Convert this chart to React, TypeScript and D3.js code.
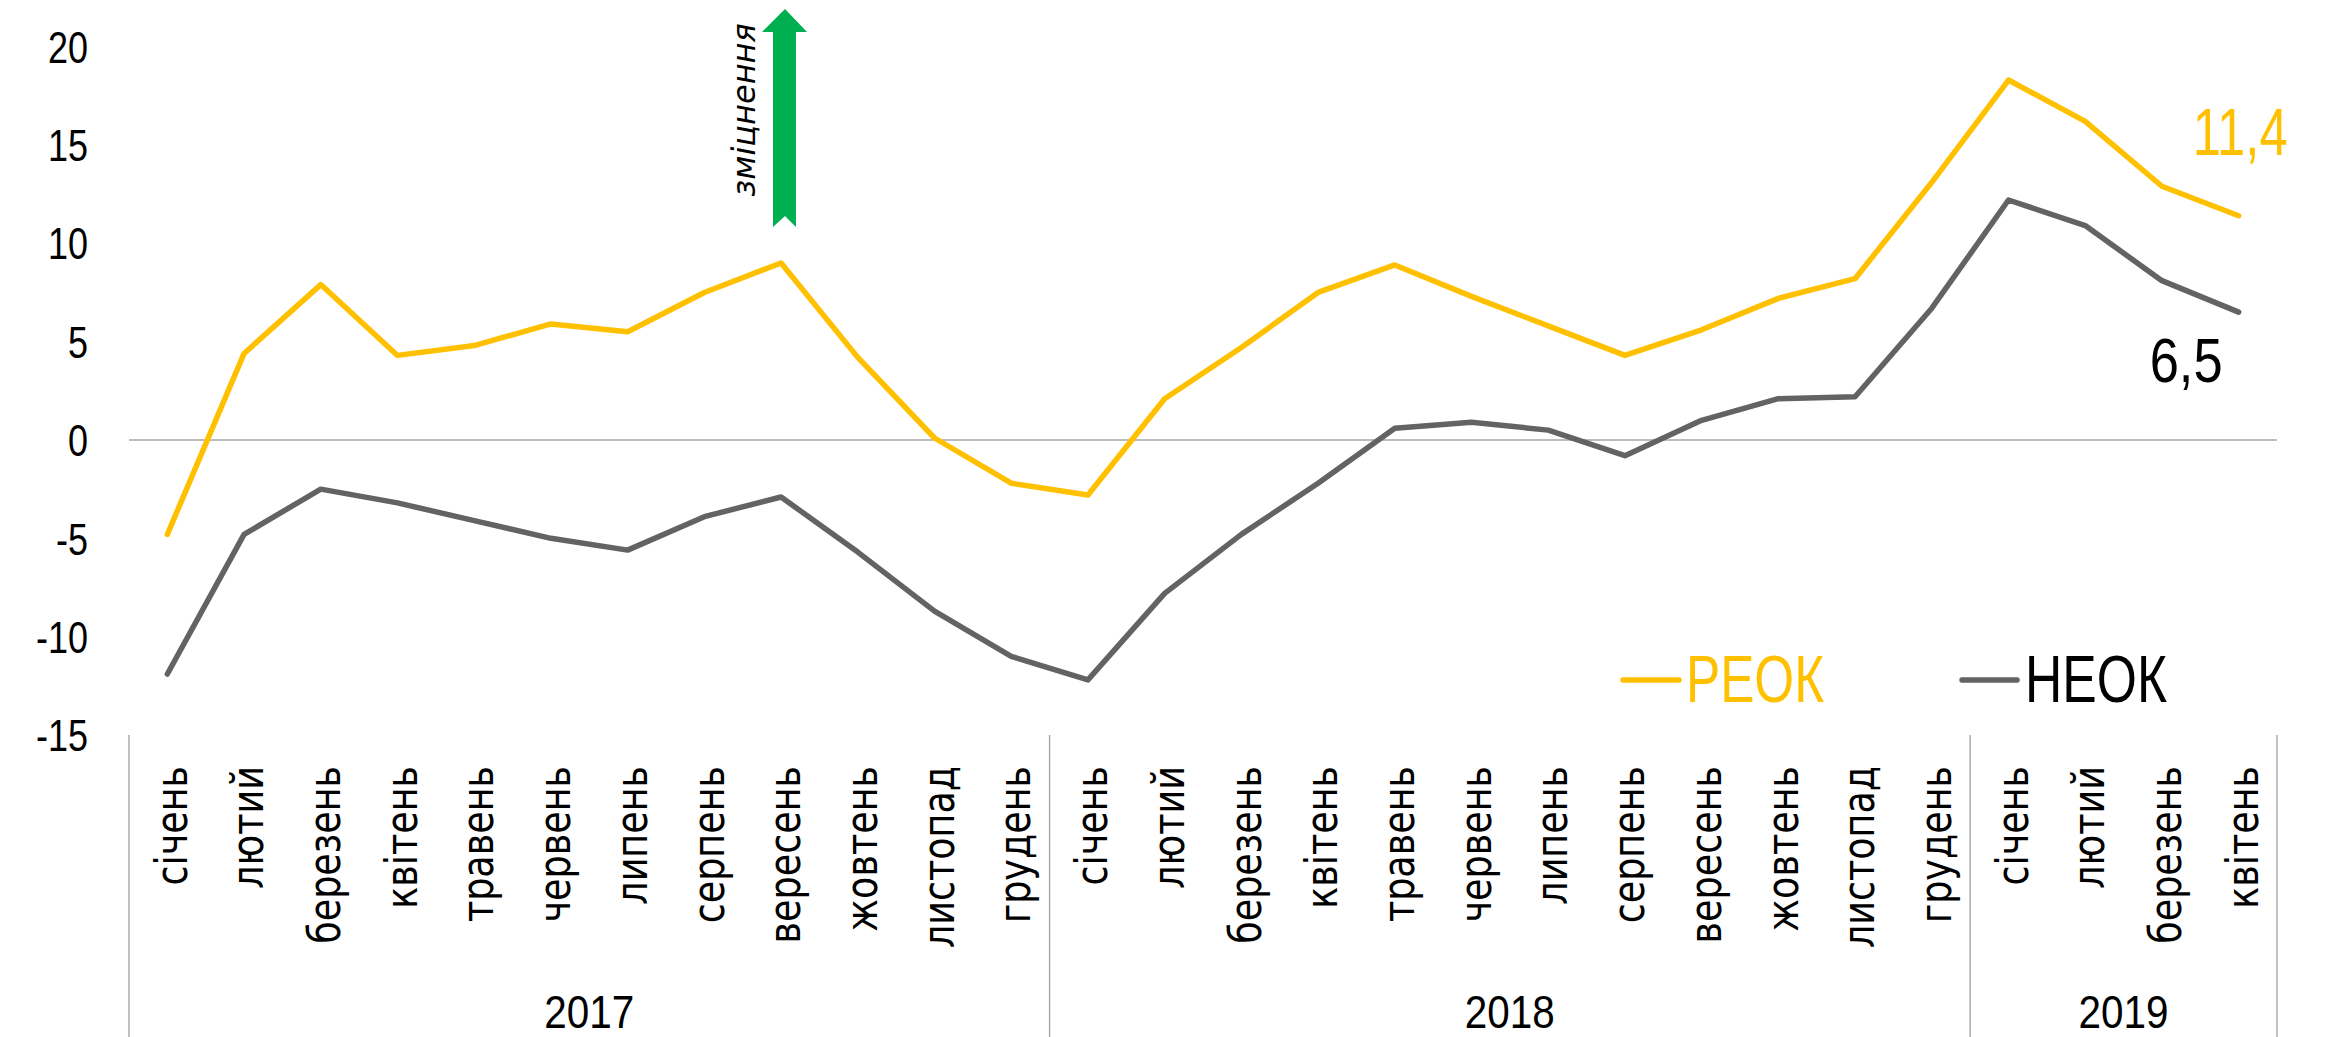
import React from 'react';
import * as d3 from 'd3';

const monthLabels = [
  'січень','лютий','березень','квітень','травень','червень','липень','серпень','вересень','жовтень','листопад','грудень',
  'січень','лютий','березень','квітень','травень','червень','липень','серпень','вересень','жовтень','листопад','грудень',
  'січень','лютий','березень','квітень',
];
const yearLabels = ['2017', '2018', '2019'];
const yearCounts = [12, 12, 4];

const reok = [-4.8, 4.4, 7.9, 4.3, 4.8, 5.9, 5.5, 7.5, 9.0, 4.2, 0.1, -2.2,
  -2.8, 2.1, 4.7, 7.5, 8.9, 7.3, 5.8, 4.3, 5.6, 7.2, 8.2, 13.1,
  18.3, 16.2, 12.9, 11.4];
const neok = [-11.9, -4.8, -2.5, -3.2, -4.1, -5.0, -5.6, -3.9, -2.9, -5.7, -8.7, -11.0,
  -12.2, -7.8, -4.8, -2.2, 0.6, 0.9, 0.5, -0.8, 1.0, 2.1, 2.2, 6.7,
  12.2, 10.9, 8.1, 6.5];
const yTicks = [20, 15, 10, 5, 0, -5, -10, -15];
const seriesNames = ['РЕОК', 'НЕОК'];
const endLabels = ['11,4', '6,5'];
const arrowLabel = 'зміцнення';

const W = 2335;
const H = 1037;
const YELLOW = '#FFC000';
const GRAY = '#636363';
const AXIS = '#a6a6a6';
const NARROW = '"Liberation Sans Narrow", "Liberation Sans", sans-serif';

export default function App() {
  const idx = d3.range(monthLabels.length);
  const x = d3.scaleBand<number>().domain(idx).range([129, 2277]).padding(0);
  const cx = (i: number) => (x(i) as number) + x.bandwidth() / 2;
  const y = d3.scaleLinear().domain([-15, 20]).range([735, 46.6]);

  const line = d3.line<number>().x((_, i) => cx(i)).y((d) => y(d));

  const bounds: number[] = [0];
  yearCounts.forEach((c) => bounds.push(bounds[bounds.length - 1] + c));
  const edgeX = (k: number) => (k >= idx.length ? x.range()[1] : (x(k) as number));

  const lastI = idx.length - 1;
  const lastX = cx(lastI);

  return (
    <svg width={W} height={H} style={{ position: 'absolute', left: 0, top: 0, background: '#fff' }}>
      {/* y tick labels */}
      {yTicks.map((t) => (
        <text
          key={t}
          transform={`translate(88,${y(t)}) scale(0.8,1)`}
          dy="0.36em"
          textAnchor="end"
          fontFamily='"Liberation Sans", sans-serif'
          fontSize={45}
          fill="#000"
        >
          {t}
        </text>
      ))}
      {/* zero line */}
      <line x1={x.range()[0]} x2={x.range()[1]} y1={y(0)} y2={y(0)} stroke={AXIS} strokeWidth={1.6} />
      {/* vertical separators */}
      {bounds.map((b) => (
        <line key={b} x1={edgeX(b)} x2={edgeX(b)} y1={y(-15)} y2={H} stroke={AXIS} strokeWidth={1.4} />
      ))}
      {/* month labels */}
      {idx.map((i) => (
        <text
          key={i}
          transform={`translate(${cx(i) + 7},766) rotate(-90) scale(1,1.2)`}
          textAnchor="end"
          dy="0.28em"
          fontFamily='"DejaVu Sans", sans-serif'
          fontSize={36.5}
          fill="#000"
        >
          {monthLabels[i]}
        </text>
      ))}
      {/* year labels */}
      {yearLabels.map((yl, k) => (
        <text
          key={yl}
          x={(edgeX(bounds[k]) + edgeX(bounds[k + 1])) / 2}
          y={1028}
          textAnchor="middle"
          fontFamily={NARROW}
          fontSize={46}
          textLength={90}
          lengthAdjust="spacingAndGlyphs"
          fill="#000"
        >
          {yl}
        </text>
      ))}
      {/* series lines */}
      <path d={line(neok) || ''} fill="none" stroke={GRAY} strokeWidth={5.5} strokeLinejoin="round" strokeLinecap="round" />
      <path d={line(reok) || ''} fill="none" stroke={YELLOW} strokeWidth={5.5} strokeLinejoin="round" strokeLinecap="round" />
      {/* end labels */}
      <text x={lastX - 46} y={y(reok[lastI]) - 61} fontFamily={NARROW} fontSize={66} textLength={95} lengthAdjust="spacingAndGlyphs" fill={YELLOW}>
        {endLabels[0]}
      </text>
      <text x={lastX - 89} y={y(neok[lastI]) + 70} fontFamily={NARROW} fontSize={63} textLength={73} lengthAdjust="spacingAndGlyphs" fill="#000">
        {endLabels[1]}
      </text>
      {/* legend */}
      <line x1={1623} x2={1679} y1={680} y2={680} stroke={YELLOW} strokeWidth={5.5} strokeLinecap="round" />
      <text x={1686} y={702} fontFamily={NARROW} fontSize={67} textLength={138} lengthAdjust="spacingAndGlyphs" fill={YELLOW}>
        {seriesNames[0]}
      </text>
      <line x1={1962} x2={2017} y1={680} y2={680} stroke={GRAY} strokeWidth={5.5} strokeLinecap="round" />
      <text x={2025} y={702} fontFamily={NARROW} fontSize={67} textLength={142} lengthAdjust="spacingAndGlyphs" fill="#000">
        {seriesNames[1]}
      </text>
      {/* arrow */}
      <path d="M785,9 L807,32 L796,32 L796,227 L785,216 L773,227 L773,32 L762,32 Z" fill="#00B050" />
      <text
        transform="translate(755,110) rotate(-90)"
        textAnchor="middle"
        fontFamily='"DejaVu Sans", sans-serif'
        fontStyle="italic"
        fontSize={32}
        fill="#000"
      >
        {arrowLabel}
      </text>
    </svg>
  );
}
